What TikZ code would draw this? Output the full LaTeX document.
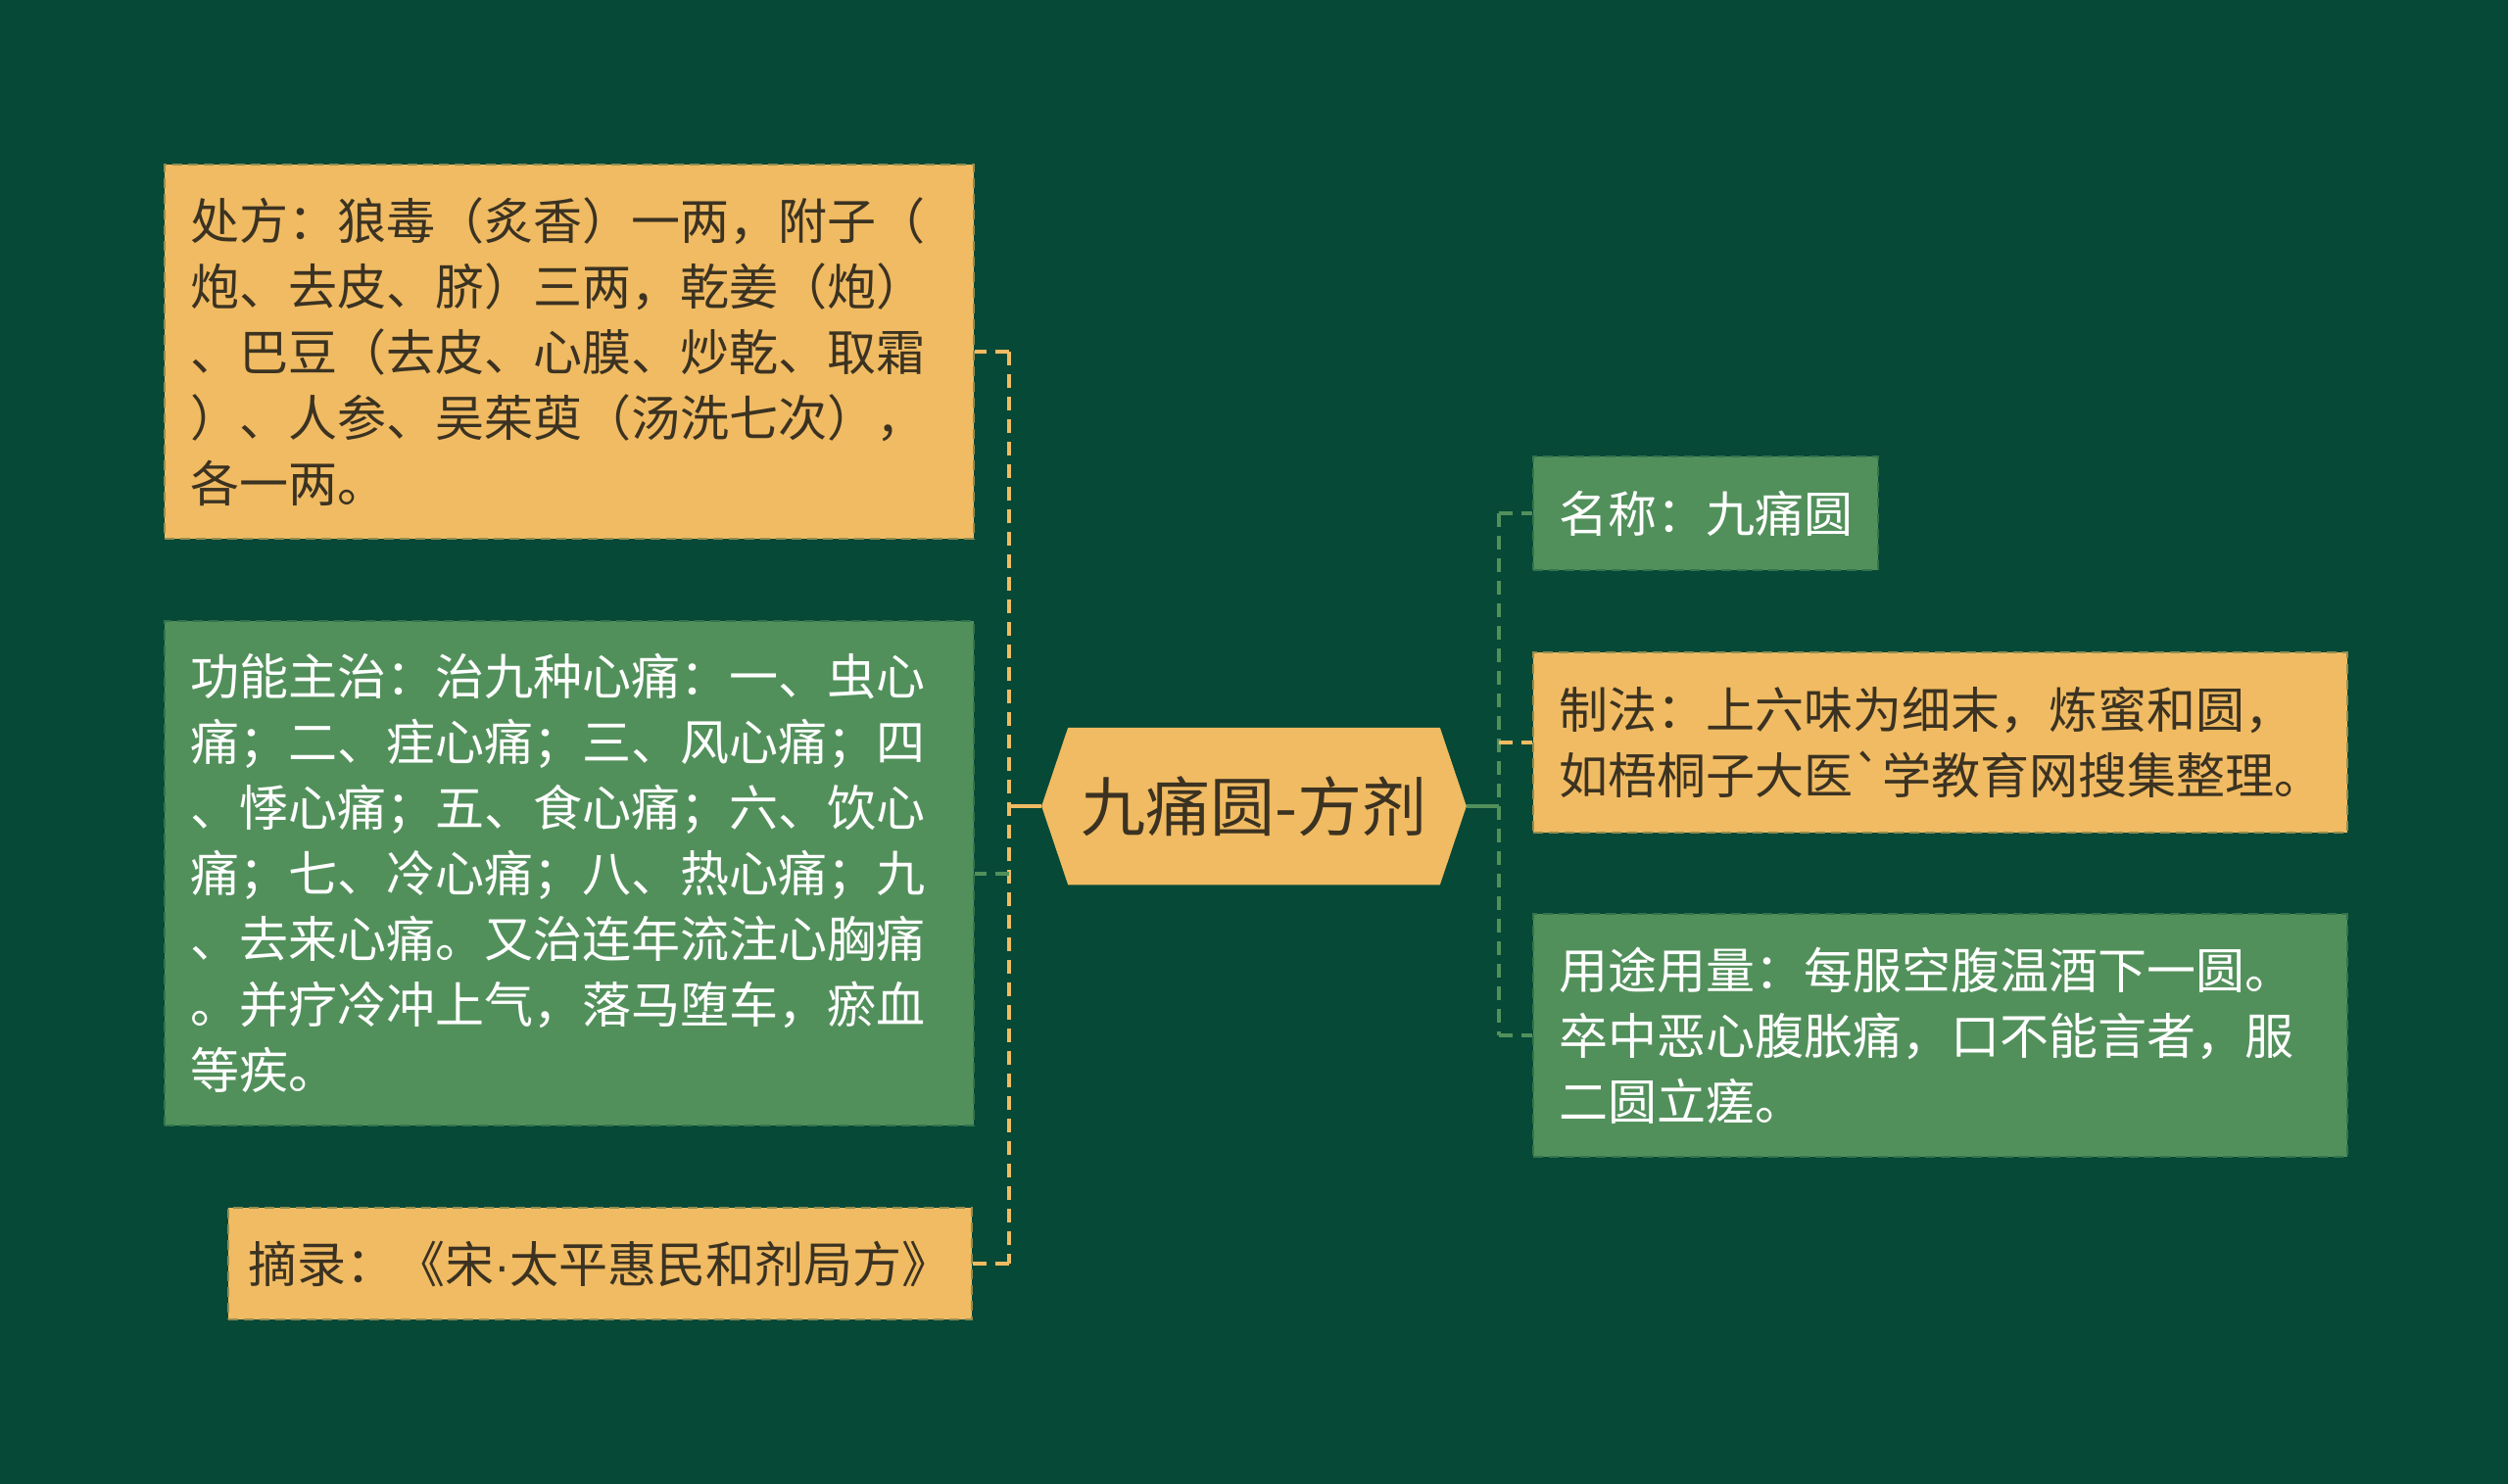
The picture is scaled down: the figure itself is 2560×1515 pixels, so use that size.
\documentclass[tikz,border=0pt]{standalone}
\usepackage{fontspec}
\setmainfont{Noto Sans CJK SC}[Ligatures=TeXOff]
\newfontfamily\latinfont{Liberation Sans}
\usetikzlibrary{calc,backgrounds}
\definecolor{bg}{HTML}{074937}
\definecolor{og}{HTML}{F0BB62}
\definecolor{gr}{HTML}{52905B}
\definecolor{ink}{HTML}{3B3222}
\tikzset{
  box/.style={anchor=north west, inner xsep=0.26cm, inner ysep=0pt, align=left,
    font=\fontsize{0.5cm}{0.67cm}\selectfont, draw, line width=0.02cm,
    dash pattern=on 0.1cm off 0.06cm},
  obox/.style={box, fill=og, draw=og!60!bg, text=ink},
  gbox/.style={box, fill=gr, draw=gr!60!bg, text=white},
  conn/.style={line width=0.04cm, dash pattern=on 0.14cm off 0.09cm},
  stem/.style={line width=0.04cm},
}
\begin{document}
\begin{tikzpicture}[x=0.01cm, y=-0.01cm]
\useasboundingbox (0,0) rectangle (2560,1515);
\begin{scope}[on background layer]
  \fill[bg] (0,0) rectangle (2560,1515);
\end{scope}

% centre
\node[font=\fontsize{0.66cm}{0.8cm}\selectfont, text=ink, minimum width=4.32cm,
      minimum height=1.59cm, inner sep=0pt] (c) at (1280,823) {九痛圆-方剂};
\begin{scope}[on background layer]
  \fill[og] (c.west) -- ($(c.north west)+(27,0)$) -- ($(c.north east)+(-27,0)$)
    -- (c.east) -- ($(c.south east)+(-27,0)$) -- ($(c.south west)+(27,0)$) -- cycle;
\end{scope}

% left children
\node[obox, text width=7.74cm, minimum height=3.82cm] (p) at (167,167)
  {处方：狼毒（炙香）一两，附子（\\炮、去皮、脐）三两，乾姜（炮）\\、巴豆（去皮、心膜、炒乾、取霜\\）、人参、吴茱萸（汤洗七次），\\各一两。};
\node[gbox, text width=7.74cm, minimum height=5.15cm] (f) at (167,633)
  {功能主治：治九种心痛：一、虫心\\痛；二、疰心痛；三、风心痛；四\\、悸心痛；五、食心痛；六、饮心\\痛；七、冷心痛；八、热心痛；九\\、去来心痛。又治连年流注心胸痛\\。并疗冷冲上气，落马堕车，瘀血\\等疾。};
\node[obox, anchor=east, inner xsep=0.21cm, minimum height=1.14cm] (s) at (993,1290)
  {摘录：《宋{\latinfont ·}太平惠民和剂局方》};

% right children
\node[gbox, minimum width=3.51cm, minimum height=1.16cm] (n) at (1564,465)
  {名称：九痛圆};
\node[obox, text width=7.78cm, minimum height=1.84cm] (m) at (1564,665)
  {制法：上六味为细末，炼蜜和圆，\\如梧桐子大医`学教育网搜集整理。};
\node[gbox, text width=7.78cm, minimum height=2.48cm] (u) at (1564,932)
  {用途用量：每服空腹温酒下一圆。\\卒中恶心腹胀痛，口不能言者，服\\二圆立瘥。};

% connectors left
\coordinate (jl) at (1030,823);
\draw[stem, og] (c.west) -- (jl);
\draw[conn, og] (jl |- p.east) -- (jl |- s.east);
\draw[conn, og] (jl |- p.east) -- (p.east);
\draw[conn, gr] (jl |- f.east) -- (f.east);
\draw[conn, og] (jl |- s.east) -- (s.east);

% connectors right
\coordinate (jr) at (1530,823);
\draw[stem, gr] (c.east) -- (jr);
\draw[conn, gr] (jr |- n.west) -- (jr |- u.west);
\draw[conn, gr] (jr |- n.west) -- (n.west);
\draw[conn, og] (jr |- m.west) -- (m.west);
\draw[conn, gr] (jr |- u.west) -- (u.west);
\end{tikzpicture}
\end{document}
